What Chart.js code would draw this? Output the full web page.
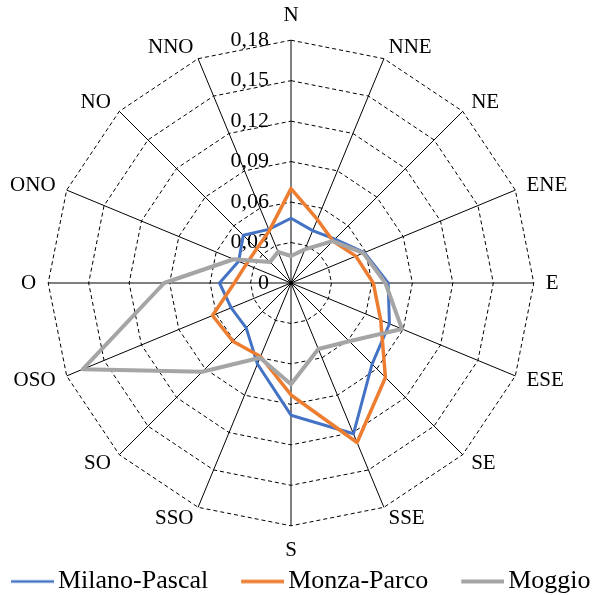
<!DOCTYPE html>
<html>
<head>
<meta charset="utf-8">
<script src="https://cdn.jsdelivr.net/npm/chart.js@4/dist/chart.umd.min.js"></script>
<style>
  html, body { margin: 0; padding: 0; background: #fff; }
  canvas { display: block; }
</style>
</head>
<body>
<canvas id="rose" width="595" height="595"></canvas>
<script>
// Wind directions (Italian compass points), clockwise from north
const directions = ['N', 'NNE', 'NE', 'ENE', 'E', 'ESE', 'SE', 'SSE',
                    'S', 'SSO', 'SO', 'OSO', 'O', 'ONO', 'NO', 'NNO'];

// Direction frequencies per station
const milanoPascal = [0.048, 0.042, 0.046, 0.059, 0.072, 0.079, 0.085, 0.121,
                      0.098, 0.065, 0.047, 0.048, 0.053, 0.042, 0.050, 0.043];
const monzaParco   = [0.070, 0.051, 0.044, 0.052, 0.061, 0.072, 0.099, 0.128,
                      0.083, 0.059, 0.061, 0.063, 0.042, 0.036, 0.036, 0.042];
const moggio       = [0.020, 0.027, 0.044, 0.058, 0.070, 0.089, 0.061, 0.053,
                      0.075, 0.060, 0.093, 0.167, 0.094, 0.046, 0.022, 0.025];

// Radial axis
const axisMax = 0.18;
const axisStep = 0.03;

const SERIF = "'Liberation Serif', 'Times New Roman', serif";

// Short line swatch used as legend symbol; the line sits in the right part of the image
function lineSwatch(color, width) {
  const c = document.createElement('canvas');
  c.width = 80;
  c.height = 8;
  const g = c.getContext('2d');
  g.strokeStyle = color;
  g.lineWidth = width;
  g.lineCap = 'butt';
  g.beginPath();
  g.moveTo(37, 4);
  g.lineTo(80, 4);
  g.stroke();
  return c;
}

// Tick text right-aligned to the left of the north spoke (radial ticks are centred, so pad with spaces)
function tickText(v) {
  if (Math.abs(v) < 1e-6) return '0' + ' '.repeat(10);
  return (Math.round(v * 100) / 100).toFixed(2).replace('.', ',') + ' '.repeat(15);
}

new Chart(document.getElementById('rose'), {
  type: 'radar',
  data: {
    labels: directions,
    datasets: [
      { label: 'Milano-Pascal', data: milanoPascal, borderColor: '#4472C4', backgroundColor: '#4472C4',
        borderWidth: 3, order: 3 },
      { label: 'Monza-Parco', data: monzaParco, borderColor: '#ED7D31', backgroundColor: '#ED7D31',
        borderWidth: 3.5, order: 2 },
      { label: 'Moggio', data: moggio, borderColor: '#A5A5A5', backgroundColor: '#A5A5A5',
        borderWidth: 4, order: 1 }
    ]
  },
  options: {
    responsive: false,
    animation: false,
    layout: { padding: { left: -22, right: -11, top: 3, bottom: -9.5 } },
    elements: {
      line: { fill: false, tension: 0, borderJoinStyle: 'round' },
      point: { radius: 0, hoverRadius: 0 }
    },
    plugins: {
      tooltip: { enabled: false },
      legend: {
        position: 'bottom',
        align: 'start',
        labels: {
          usePointStyle: true,
          pointStyleWidth: 62,
          padding: 5,
          color: '#000',
          font: { family: SERIF, size: 26 },
          generateLabels(chart) {
            const items = Chart.defaults.plugins.legend.labels.generateLabels(chart);
            items.sort((a, b) => a.datasetIndex - b.datasetIndex);
            return items.map(it => {
              const ds = chart.data.datasets[it.datasetIndex];
              const w = ds.label === 'Milano-Pascal' ? 2.5 : (ds.label === 'Monza-Parco' ? 3.5 : 4);
              return Object.assign({}, it, {
                pointStyle: lineSwatch(ds.borderColor, w),
                lineWidth: 0,
                fillStyle: 'rgba(0,0,0,0)',
                strokeStyle: 'rgba(0,0,0,0)'
              });
            });
          }
        }
      }
    },
    scales: {
      r: {
        min: -1e-9,
        max: axisMax,
        startAngle: 0,
        ticks: {
          stepSize: axisStep,
          showLabelBackdrop: false,
          backdropPadding: 0,
          color: '#000',
          font: { family: SERIF, size: 22 },
          callback: tickText
        },
        grid: { color: '#000', lineWidth: 1, borderDash: [4, 3] },
        border: { dash: [4, 3] },
        angleLines: { color: '#000', lineWidth: 1 },
        pointLabels: {
          padding: 1,
          color: '#000',
          // extra room reserved on the east side keeps the rose centred left of the canvas middle
          callback: (label) => (label === 'ENE' || label === 'ESE') ? label + '   ' : label,
          // N/S sit beyond the spoke end; all other labels are vertically centred on it
          font: (ctx) => ({ family: SERIF, size: 21, lineHeight: (ctx.index % 4 === 0) ? 1.2 : 0 })
        }
      }
    }
  }
});
</script>
</body>
</html>
